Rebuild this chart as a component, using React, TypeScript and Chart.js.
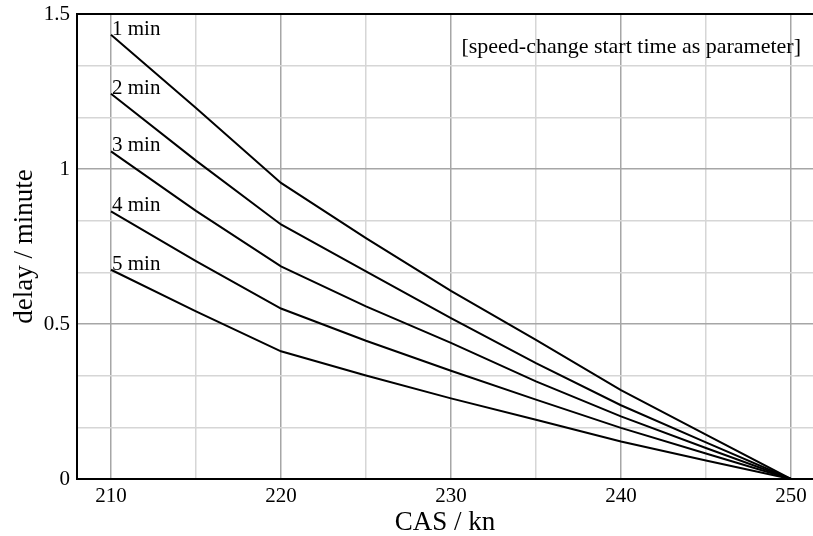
import React, { useEffect, useRef } from "react";
import { Chart, registerables } from "chart.js";

Chart.register(...registerables);

const speeds = [210, 215, 220, 225, 230, 235, 240, 245, 250];
const delay1min = [1.433, 1.197, 0.955, 0.777, 0.607, 0.449, 0.287, 0.143, 0];
const delay2min = [1.243, 1.027, 0.821, 0.67, 0.519, 0.374, 0.238, 0.118, 0];
const delay3min = [1.057, 0.865, 0.686, 0.557, 0.439, 0.315, 0.202, 0.1, 0];
const delay4min = [0.863, 0.703, 0.55, 0.446, 0.349, 0.256, 0.165, 0.082, 0];
const delay5min = [0.675, 0.541, 0.412, 0.334, 0.26, 0.191, 0.121, 0.06, 0];
const seriesLabels = ["1 min", "2 min", "3 min", "4 min", "5 min"];

const xTickValues = [210, 215, 220, 225, 230, 235, 240, 245, 250];
const xLabeled = [210, 220, 230, 240, 250];
const yTickValues = [0, 1 / 6, 2 / 6, 0.5, 4 / 6, 5 / 6, 1, 7 / 6, 8 / 6, 1.5];
const yLabeled = [0, 0.5, 1, 1.5];
const annotationText = "[speed-change start time as parameter]";

const FONT = "'Liberation Serif', 'Times New Roman', serif";

const isIn = (arr: number[], v: number) => arr.some((a) => Math.abs(a - v) < 1e-6);

export default function App() {
  const ref = useRef<HTMLCanvasElement | null>(null);

  useEffect(() => {
    if (!ref.current) return;
    const all = [delay1min, delay2min, delay3min, delay4min, delay5min];

    const labelPlugin = {
      id: "labels",
      afterDatasetsDraw(chart: any) {
        const ctx = chart.ctx;
        const xs = chart.scales.x;
        const ys = chart.scales.y;
        ctx.save();
        ctx.fillStyle = "#000";
        ctx.font = `21px ${FONT}`;
        ctx.textAlign = "left";
        ctx.textBaseline = "alphabetic";
        all.forEach((d, i) => {
          ctx.fillText(seriesLabels[i], xs.getPixelForValue(speeds[0]) + 1, ys.getPixelForValue(d[0]));
        });
        ctx.font = `22px ${FONT}`;
        ctx.textAlign = "right";
        ctx.fillText(annotationText, chart.chartArea.right - 12, chart.chartArea.top + 39);
        ctx.restore();
      },
    };

    const chart = new Chart(ref.current, {
      type: "line",
      data: {
        datasets: all.map((d, i) => ({
          label: seriesLabels[i],
          data: speeds.map((s, j) => ({ x: s, y: d[j] })),
          borderColor: "#000",
          borderWidth: 2,
          pointRadius: 0,
          fill: false,
          tension: 0,
        })),
      },
      options: {
        responsive: false,
        animation: false,
        layout: { padding: { left: 0, top: 14, right: 0, bottom: 0 } },
        plugins: { legend: { display: false }, tooltip: { enabled: false } },
        scales: {
          x: {
            type: "linear",
            min: 208,
            max: 251.3,
            afterBuildTicks: (s: any) => {
              s.ticks = xTickValues.map((v) => ({ value: v }));
            },
            afterFit: (s: any) => {
              s.height = 57;
              s.paddingLeft = 0;
              s.paddingRight = 0;
            },
            border: { display: true, color: "#000", width: 2 },
            grid: {
              drawTicks: false,
              color: (c: any) => (isIn(xLabeled, c.tick.value) ? "#a6a6a6" : "#d6d6d6"),
              lineWidth: 1.5,
            },
            ticks: {
              autoSkip: false,
              maxRotation: 0,
              padding: 5,
              color: "#000",
              font: { family: FONT, size: 21 },
              callback: (v: any) => (isIn(xLabeled, Number(v)) ? String(v) : ""),
            },
            title: {
              display: true,
              text: "CAS / kn",
              color: "#000",
              font: { family: FONT, size: 27 },
              padding: { top: 0, bottom: -3 },
            },
          },
          y: {
            type: "linear",
            min: 0,
            max: 1.5,
            afterBuildTicks: (s: any) => {
              s.ticks = yTickValues.map((v) => ({ value: v }));
            },
            afterFit: (s: any) => {
              s.width = 77;
              s.paddingTop = 0;
              s.paddingBottom = 0;
            },
            border: { display: true, color: "#000", width: 2 },
            grid: {
              drawTicks: false,
              color: (c: any) =>
                Math.abs(c.tick.value - 1.5) < 1e-6
                  ? "#000"
                  : isIn(yLabeled, c.tick.value)
                  ? "#a6a6a6"
                  : "#d6d6d6",
              lineWidth: (c: any) => (Math.abs(c.tick.value - 1.5) < 1e-6 ? 2 : 1.5),
            },
            ticks: {
              autoSkip: false,
              padding: 7,
              color: "#000",
              font: { family: FONT, size: 21 },
              callback: (v: any) => (isIn(yLabeled, Number(v)) ? String(Number(v)) : ""),
            },
            title: {
              display: true,
              text: "delay / minute",
              color: "#000",
              font: { family: FONT, size: 27 },
              padding: { top: 9, bottom: 0 },
            },
          },
        },
      },
      plugins: [labelPlugin],
    });
    return () => chart.destroy();
  }, []);

  return (
    <div style={{ position: "absolute", left: 0, top: 0, width: 813, height: 536, background: "#fff" }}>
      <canvas ref={ref} width={813} height={536} />
    </div>
  );
}
